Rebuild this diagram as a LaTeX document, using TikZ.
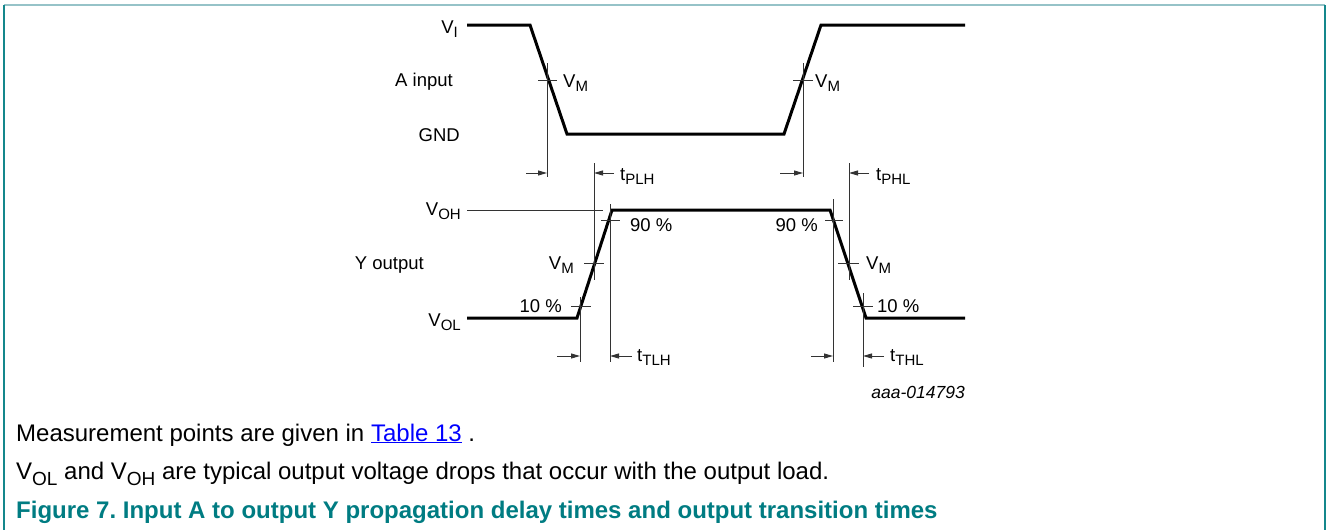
\documentclass[tikz,border=0pt]{standalone}
\usepackage{fontspec}
\setmainfont{Liberation Sans}
\usetikzlibrary{arrows.meta}
\frenchspacing
\definecolor{frameteal}{RGB}{20,135,140}
\definecolor{framelight}{RGB}{150,195,200}
\definecolor{captionteal}{RGB}{0,124,130}
\definecolor{linkblue}{RGB}{0,0,255}
\newcommand{\mysub}[1]{\raisebox{-0.25em}{\fontsize{15}{16}\selectfont #1}}
\newcommand{\bodysub}[1]{\raisebox{-0.25em}{\fontsize{19}{20}\selectfont #1}}
\tikzset{
  wave/.style={line width=3pt, line join=miter},
  thin/.style={line width=0.9pt, draw=black!80},
  darr/.style={line width=0.9pt, draw=black!80, -{Triangle[length=9pt,width=5pt]}},
  lbl/.style={inner sep=0pt, font=\fontsize{18.5}{21}\selectfont},
  body/.style={inner sep=0pt, anchor=base west, font=\fontsize{24}{28}\selectfont}
}
\begin{document}
\begin{tikzpicture}[x=1pt,y=-1pt]
\useasboundingbox (0,0) rectangle (1327,530);
% frame
\draw[framelight, line width=1.5pt] (4,5) -- (1325,5);
\draw[frameteal, line width=1.5pt] (4,5) -- (4,530);
\draw[frameteal, line width=1.5pt] (1325,5) -- (1325,530);

% input waveform
\coordinate (i0) at (467,25);
\coordinate (i1) at (530,25);
\coordinate (i2) at (567,134);
\coordinate (i3) at (784,134);
\coordinate (i4) at (821,25);
\coordinate (i5) at (965,25);
\draw[wave] (i0) -- (i1) -- (i2) -- (i3) -- (i4) -- (i5);

% output waveform
\coordinate (o0) at (467,318);
\coordinate (o1) at (577,318);
\coordinate (o2) at (612,210);
\coordinate (o3) at (830,210);
\coordinate (o4) at (866,318);
\coordinate (o5) at (965,318);
\draw[wave] (o0) -- (o1) -- (o2) -- (o3) -- (o4) -- (o5);
\coordinate (vohA) at (467,210);
\coordinate (vohB) at (603,210);
\draw[thin] (vohA) -- (vohB);

% vertical reference lines
\coordinate (va1) at (547,63);  \coordinate (va2) at (547,177);
\coordinate (vb1) at (803,63);  \coordinate (vb2) at (803,177);
\coordinate (vc1) at (594,163); \coordinate (vc2) at (594,280);
\coordinate (vd1) at (849,163); \coordinate (vd2) at (849,280);
\coordinate (ve1) at (580,297); \coordinate (ve2) at (580,362);
\coordinate (vf1) at (610,204); \coordinate (vf2) at (610,362);
\coordinate (vg1) at (833,199); \coordinate (vg2) at (833,362);
\coordinate (vh1) at (863,293); \coordinate (vh2) at (863,367);
\foreach \v in {a,b,c,d,e,f,g,h} {\draw[thin] (v\v1) -- (v\v2);}

% ticks
\coordinate (ta1) at (538,80); \coordinate (ta2) at (557,80);
\coordinate (tb1) at (793,80); \coordinate (tb2) at (813,80);
\coordinate (tc1) at (601,220); \coordinate (tc2) at (620,220);
\coordinate (td1) at (584,263); \coordinate (td2) at (604,263);
\coordinate (te1) at (571,306); \coordinate (te2) at (591,306);
\coordinate (tf1) at (825,220); \coordinate (tf2) at (843,220);
\coordinate (tg1) at (838,263); \coordinate (tg2) at (859,263);
\coordinate (th1) at (853,306); \coordinate (th2) at (873,306);
\foreach \t in {a,b,c,d,e,f,g,h} {\draw[thin] (t\t1) -- (t\t2);}

% arrows
\coordinate (aa1) at (526,173); \coordinate (aa2) at (547,173);
\coordinate (ab1) at (780,173); \coordinate (ab2) at (803,173);
\coordinate (ac1) at (614,173); \coordinate (ac2) at (594,173);
\coordinate (ad1) at (869,173); \coordinate (ad2) at (849,173);
\coordinate (ae1) at (557,356); \coordinate (ae2) at (580,356);
\coordinate (af1) at (632,356); \coordinate (af2) at (610,356);
\coordinate (ag1) at (811,356); \coordinate (ag2) at (833,356);
\coordinate (ah1) at (884,356); \coordinate (ah2) at (863,356);
\foreach \a in {a,b,c,d,e,f,g,h} {\draw[darr] (a\a1) -- (a\a2);}

% labels
\node[lbl, anchor=base east] (lVI) at (458,33) {V\mysub{I}};
\node[lbl, anchor=base east] (lA) at (453,86) {A input};
\node[lbl, anchor=base east] (lGND) at (460,141) {GND};
\node[lbl, anchor=base west] (lVM1) at (563,87) {V\mysub{M}};
\node[lbl, anchor=base west] (lVM2) at (815,87) {V\mysub{M}};
\node[lbl, anchor=base west] (ltPLH) at (620,180) {t\mysub{PLH}};
\node[lbl, anchor=base west] (ltPHL) at (876,180) {t\mysub{PHL}};
\node[lbl, anchor=base east] (lVOH) at (461,215) {V\mysub{OH}};
\node[lbl, anchor=base west] (l90a) at (630,231) {90 \%};
\node[lbl, anchor=base east] (l90b) at (818,231) {90 \%};
\node[lbl, anchor=base east] (lY) at (424,269) {Y output};
\node[lbl, anchor=base east] (lVM3) at (574,269) {V\mysub{M}};
\node[lbl, anchor=base west] (lVM4) at (866,269) {V\mysub{M}};
\node[lbl, anchor=base east] (l10a) at (562,312) {10 \%};
\node[lbl, anchor=base west] (l10b) at (877,312) {10 \%};
\node[lbl, anchor=base east] (lVOL) at (461,326) {V\mysub{OL}};
\node[lbl, anchor=base west] (ltTLH) at (637,361) {t\mysub{TLH}};
\node[lbl, anchor=base west] (ltTHL) at (890,361) {t\mysub{THL}};
\node[inner sep=0pt, anchor=base east, font=\fontsize{17.5}{20}\selectfont\itshape] (code) at (965,398) {aaa-014793};

% text below
\node[body] (t1) at (16,441) {Measurement points are given in \textcolor{linkblue}{\underline{Table 13}} .};
\node[body] (t2) at (16,479) {V\bodysub{OL} and V\bodysub{OH} are typical output voltage drops that occur with the output load.};
\node[body, font=\fontsize{24}{28}\selectfont\bfseries, text=captionteal] (t3) at (16,518) {Figure 7. Input A to output Y propagation delay times and output transition times};
\end{tikzpicture}
\end{document}
